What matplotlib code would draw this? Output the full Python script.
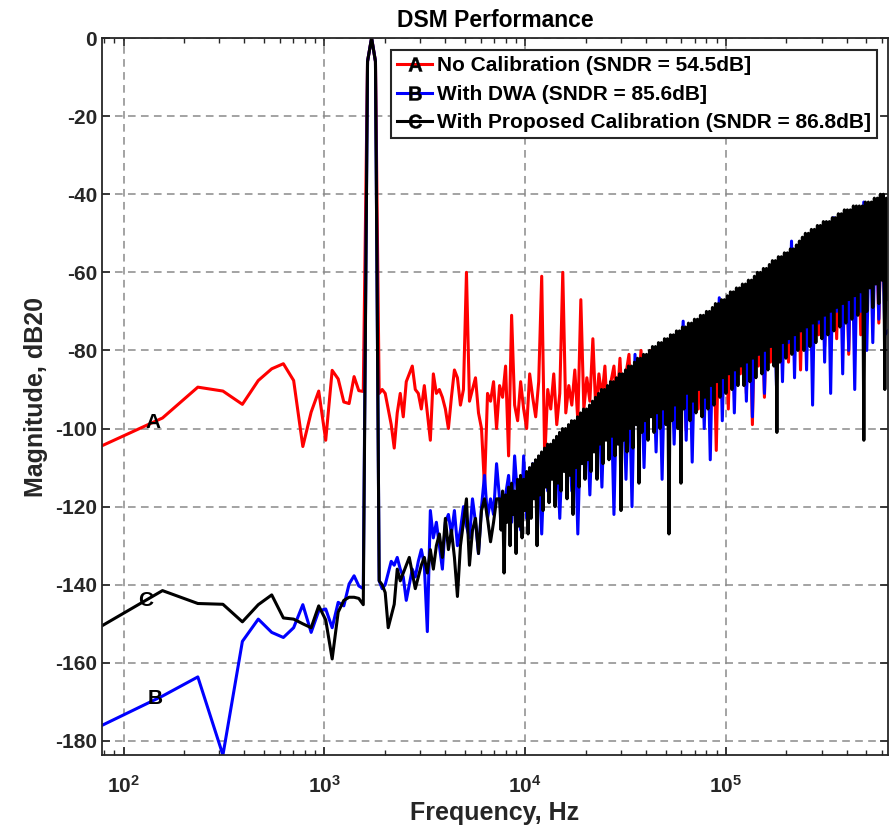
import numpy as np
import matplotlib
matplotlib.use("Agg")
import matplotlib.pyplot as plt
from matplotlib.lines import Line2D
from matplotlib.ticker import LogLocator, NullFormatter

plt.rcParams['font.family'] = ['Liberation Sans', 'DejaVu Sans']
plt.rcParams['font.weight'] = 'bold'
plt.rcParams['mathtext.fontset'] = 'custom'
plt.rcParams['mathtext.rm'] = 'Liberation Sans:bold'
plt.rcParams['mathtext.bf'] = 'Liberation Sans:bold'
plt.rcParams['mathtext.it'] = 'Liberation Sans:bold'
plt.rcParams['axes.unicode_minus'] = False

# FFT bins (df = 78.125 Hz) up to just past the tone, then the shaped noise floor
df = 78.125
freq_low = np.arange(1, 24) * df
freq_high = np.geomspace(1875, 640000, 170)
# black trace is read at twice the density above ~7.5 kHz (it is a solid band there)
freq_black_b = np.geomspace(freq_high[40], 640000, 260)

red_low = [-104.4, -97.3, -89.4, -90.4, -93.8, -87.7, -84.7, -83.4, -87.7, -104.6,
           -95.8, -90.4, -103.0, -85.1, -87.3, -93.2, -93.6, -86.7, -90.3, -90.5,
           -6.0, 0.0, -6.0]
blue_low = [-176.0, -168.5, -163.6, -183.6, -154.5, -148.8, -152.2, -153.5, -151.0, -145.1,
            -152.2, -146.7, -146.2, -151.0, -144.5, -145.4, -139.8, -137.7, -140.3, -141.0,
            -6.0, 0.0, -6.0]
black_low = [-150.5, -141.5, -144.8, -145.0, -149.5, -145.1, -142.6, -148.5, -148.8, -150.0,
             -151.0, -145.4, -149.0, -159.0, -147.0, -144.0, -143.2, -143.2, -143.5, -145.1,
             -6.0, 0.0, -6.0]

red_high = [-91, -90, -91, -95, -99, -105, -96, -91, -97, -88,
            -86, -84, -90, -91, -95, -89, -96, -103, -86, -91,
            -90, -92, -95, -100, -92, -85, -87, -94, -90, -60,
            -93, -90, -87, -96, -100, -115, -91, -93, -88, -100,
            -89, -92, -84, -107, -71, -94, -98, -88, -95, -100,
            -86, -92, -97, -88, -61, -108, -90, -95, -86, -99,
            -91, -60, -96, -89, -94, -85, -98, -67, -95, -87,
            -93, -77, -96, -86, -92, -84, -99, -88, -84, -94,
            -82, -97, -86, -81, -100, -83, -90, -80, -98, -85,
            -80, -95, -102, -80, -97, -78, -99, -78, -94, -77,
            -92, -76, -100.5, -75, -92, -74, -95, -73, -89, -72,
            -93, -71, -105.6, -69, -88, -68, -95, -67, -90, -66,
            -86, -65, -91, -64, -99, -63, -84, -62, -92, -61,
            -83, -59, -85, -58, -80, -57, -83, -55, -79, -54,
            -85, -53, -78, -51, -82, -50, -76, -49, -79, -48,
            -74, -48, -77, -47, -72, -46, -81, -45, -70, -45,
            -76, -44, -71, -43, -68, -43, -73, -42, -67, -60]
blue_high = [-139, -141, -140, -137, -134, -135, -133, -136, -138, -144,
             -140, -136, -138, -134, -131, -135, -152, -121, -128, -124,
             -130, -136, -124, -122, -127, -121, -130, -126, -120, -125,
             -128, -118, -124, -132, -120, -112, -123, -118, -122, -109,
             -118, -126, -117, -112, -124, -107, -118, -126, -107, -123,
             -115, -109, -118, -109, -127, -106, -116, -105, -112, -103,
             -123, -102, -111, -100, -116, -99, -127, -98, -106, -96,
             -117, -94, -104, -93, -115, -91, -102, -90, -122, -88,
             -100, -87, -113, -85.5, -120, -81, -97, -83, -110, -82,
             -95, -81, -106, -80, -113, -78, -93, -78, -104, -77,
             -91, -72.5, -103, -75, -108.6, -74, -90, -73, -100, -72,
             -108, -71, -88, -66.5, -98, -68, -85, -67, -96, -66,
             -83, -65, -93, -64, -97, -63, -81, -62, -91, -61,
             -79, -59, -89, -58, -88, -57, -78, -52, -87, -54,
             -75, -53, -85, -51, -94, -50, -73, -49, -83, -48,
             -91, -46, -70, -47, -86, -46, -80, -45, -90, -45,
             -70, -42, -80, -43, -78, -43, -72, -41, -76, -75]
black_high_a = [-139, -140, -142, -151, -148, -145, -136, -139, -137, -135,
                -133, -137, -141, -138, -135, -133, -137, -131, -136, -130,
                -127, -133, -123, -131, -126, -133, -143, -130, -124, -118,
                -135, -126, -123, -132, -121, -118, -123, -129, -124, -118]
black_high_b = [-118, -126, -116, -137, -117, -124, -115, -130, -114, -122,
                -116, -132, -113, -125, -112, -128, -113, -121, -111, -127,
                -110, -123, -109, -118, -108, -130, -107, -117, -106, -121,
                -105, -115, -104, -119, -104, -113, -103, -120, -102, -114,
                -101, -116, -100, -111, -100, -118, -99, -112, -98, -122,
                -98, -110, -97, -115, -96, -109, -95, -113, -95, -108,
                -94, -111, -93, -106, -92, -113, -91, -104, -90, -109,
                -90, -103, -89, -108, -88, -102, -88, -107, -87, -104,
                -86, -121, -86, -103, -85, -106, -84, -100, -84, -105,
                -83, -99, -82, -114, -82, -101, -81, -98, -81, -103,
                -80, -97, -79, -101, -79, -96, -78, -100, -78, -95,
                -77, -99, -77, -127, -76, -98, -76, -94, -75, -100,
                -75, -114, -74, -95, -74, -91, -73, -98, -73, -93,
                -72, -96, -72, -90, -71, -97, -71, -92, -70, -95,
                -70, -89, -69, -94, -68, -88, -68, -92, -67, -87,
                -67, -91, -66, -86, -65, -90, -65, -85, -64, -89,
                -64, -84, -63, -89, -63, -83, -62, -88, -62, -82,
                -61, -87, -60, -81, -60, -86, -59, -80, -59, -85,
                -58, -79, -57, -84, -57, -101, -56, -83, -56, -78,
                -55, -82, -55, -77, -54, -81, -54, -76, -53, -80,
                -52, -75, -51, -80, -50, -74, -50, -79, -49, -73,
                -49, -78, -48, -72, -48, -77, -47, -71, -47, -76,
                -47, -70, -46, -75, -46, -69, -45, -74, -45, -68,
                -44, -73, -44, -67, -44, -72, -43, -66, -43, -71,
                -43, -65, -43, -103, -42, -70, -42, -64, -42, -69,
                -41, -63, -41, -68, -40, -62, -40, -90, -41, -67]

labels = ['No Calibration (SNDR = 54.5dB]',
          'With DWA (SNDR = 85.6dB]',
          'With Proposed Calibration (SNDR = 86.8dB]']
letters = ['A', 'B', 'C']
colors = ['#ff0000', '#0000ff', '#000000']

freq_rb = np.concatenate([freq_low, freq_high])
freq_k = np.concatenate([freq_low, freq_high[:40], freq_black_b])
traces = [(freq_rb, np.array(red_low + red_high)),
          (freq_rb, np.array(blue_low + blue_high)),
          (freq_k, np.array(black_low + black_high_a + black_high_b))]

fig = plt.figure(figsize=(8.95, 8.34), dpi=100)
ax = fig.add_axes([0.114, 0.0947, 0.878, 0.8597])

for (x, y), c in zip(traces, colors):
    ax.semilogx(x, y, color=c, linewidth=2.2)

# curve letters at the left end
ax.text(140, -98.4, 'A', fontsize=15, fontweight='bold', ha='center', va='center')
ax.text(129, -144.0, 'C', fontsize=15, fontweight='bold', ha='center', va='center')
ax.text(144, -169.2, 'B', fontsize=15, fontweight='bold', ha='center', va='center')

ax.set_xlim(78.125, 640000)
ax.set_ylim(-183.6, 0)
ax.set_yticks(np.arange(-180, 1, 20))
ax.set_xticks([1e2, 1e3, 1e4, 1e5])
ax.set_xticklabels([r'$\mathbf{10^{2}}$', r'$\mathbf{10^{3}}$',
                    r'$\mathbf{10^{4}}$', r'$\mathbf{10^{5}}$'])
ax.xaxis.set_minor_locator(LogLocator(base=10, subs=np.arange(2, 10)))
ax.xaxis.set_minor_formatter(NullFormatter())

ax.tick_params(which='both', direction='in', top=True, right=True,
               colors='#262626', labelcolor='#262626')
ax.tick_params(which='major', length=6, width=1.2, labelsize=15)
ax.tick_params(which='minor', length=3.5, width=1.0)
ax.tick_params(axis='x', which='major', pad=14)
for lab in ax.get_yticklabels():
    lab.set_fontweight('bold')

for s in ax.spines.values():
    s.set_color('#262626')
    s.set_linewidth(1.3)

ax.set_axisbelow(True)
ax.grid(True, which='major', linestyle=(0, (5, 3.5)), color='#8a8a8a', linewidth=1.1)

ax.set_title('DSM Performance', fontsize=16.5, fontweight='bold', pad=8)
ax.set_xlabel('Frequency, Hz', fontsize=18, fontweight='bold', labelpad=3, color='#262626')
ax.set_ylabel('Magnitude, dB20', fontsize=18, fontweight='bold', labelpad=5, color='#262626')

handles = [Line2D([0], [0], color=c, linewidth=2.2, marker=r'$\mathbf{%s}$' % l,
                  markersize=10, markerfacecolor='k', markeredgecolor='k',
                  markeredgewidth=0.3)
           for c, l in zip(colors, letters)]
leg = ax.legend(handles, labels, loc='upper right', bbox_to_anchor=(0.986, 0.983),
                borderaxespad=0, fancybox=False, framealpha=1, edgecolor='#262626',
                handlelength=1.7, handletextpad=0.2, labelspacing=0.45,
                borderpad=0.3, numpoints=1, prop={'weight': 'bold', 'size': 15})
leg.get_frame().set_linewidth(1.5)

fig.savefig('out.png', dpi=100)
